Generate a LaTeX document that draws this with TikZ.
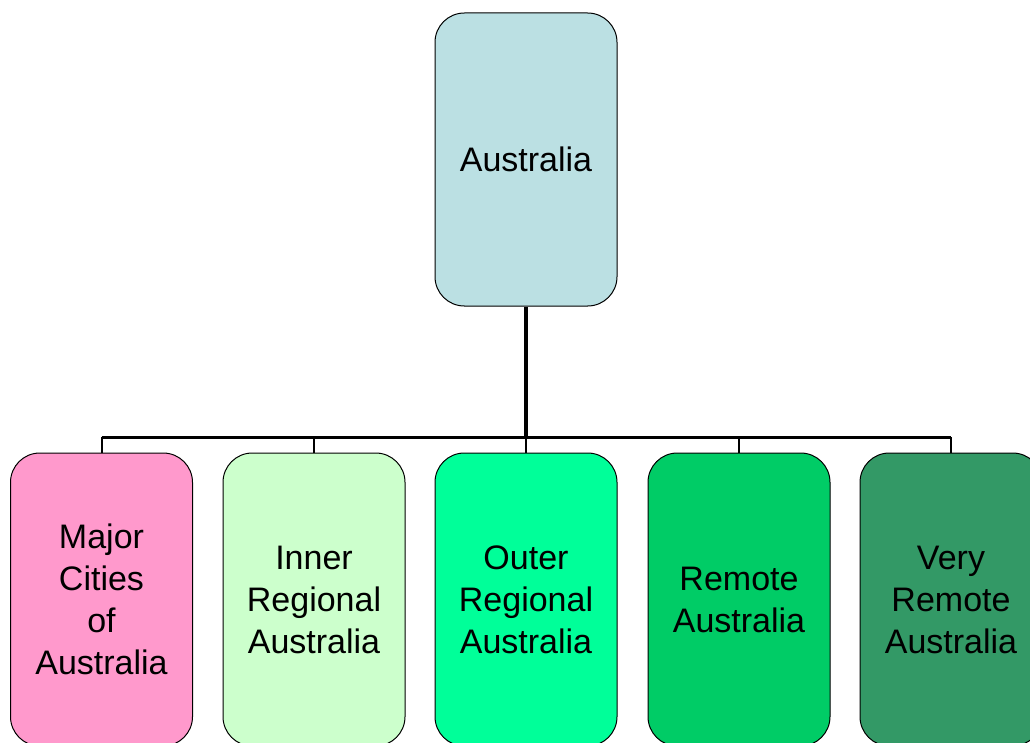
\documentclass[tikz,border=0pt]{standalone}
\usepackage{fontspec}
\setmainfont{Liberation Sans}
\definecolor{ctop}{HTML}{BBE0E3}
\definecolor{cpink}{HTML}{FF99CC}
\definecolor{clight}{HTML}{CCFFCC}
\definecolor{cmint}{HTML}{00FF99}
\definecolor{cgreen}{HTML}{00CC66}
\definecolor{cdark}{HTML}{339966}
\begin{document}
\begin{tikzpicture}[x=0.75pt,y=-0.75pt,
  box/.style={draw=black,line width=0.75pt,rounded corners=22pt,
    minimum width=136.5pt,minimum height=219.75pt,inner sep=0pt,
    align=center,font=\fontsize{25.5}{31.5}\selectfont,text width=130pt},
  trunk/.style={line width=3pt},
  bus/.style={line width=2.25pt},
  drop/.style={line width=1.5pt}]
\clip (0,0) rectangle (1030,742);
\fill[white] (0,0) rectangle (1030,742);
\node[box,fill=ctop] (top) at (526,159.5) {Australia};
\node[box,fill=cpink] (b1) at (101.5,599.5) {Major\\Cities\\of\\Australia};
\node[box,fill=clight] (b2) at (314,599.5) {Inner\\Regional\\Australia};
\node[box,fill=cmint] (b3) at (526,599.5) {Outer\\Regional\\Australia};
\node[box,fill=cgreen] (b4) at (739,599.5) {Remote\\Australia};
\node[box,fill=cdark] (b5) at (951,599.5) {Very\\Remote\\Australia};
\coordinate (bl) at (101.5,437);
\coordinate (br) at (951,437);
\coordinate (bm) at (526,437);
\draw[bus] (bl) -- (br);
\draw[trunk] (top.south) -- (bm);
\foreach \b/\x in {b1/101.5,b2/314,b3/526,b4/739,b5/951}{
  \draw[drop] (\x,437) -- (\b.north);
}
\end{tikzpicture}
\end{document}
